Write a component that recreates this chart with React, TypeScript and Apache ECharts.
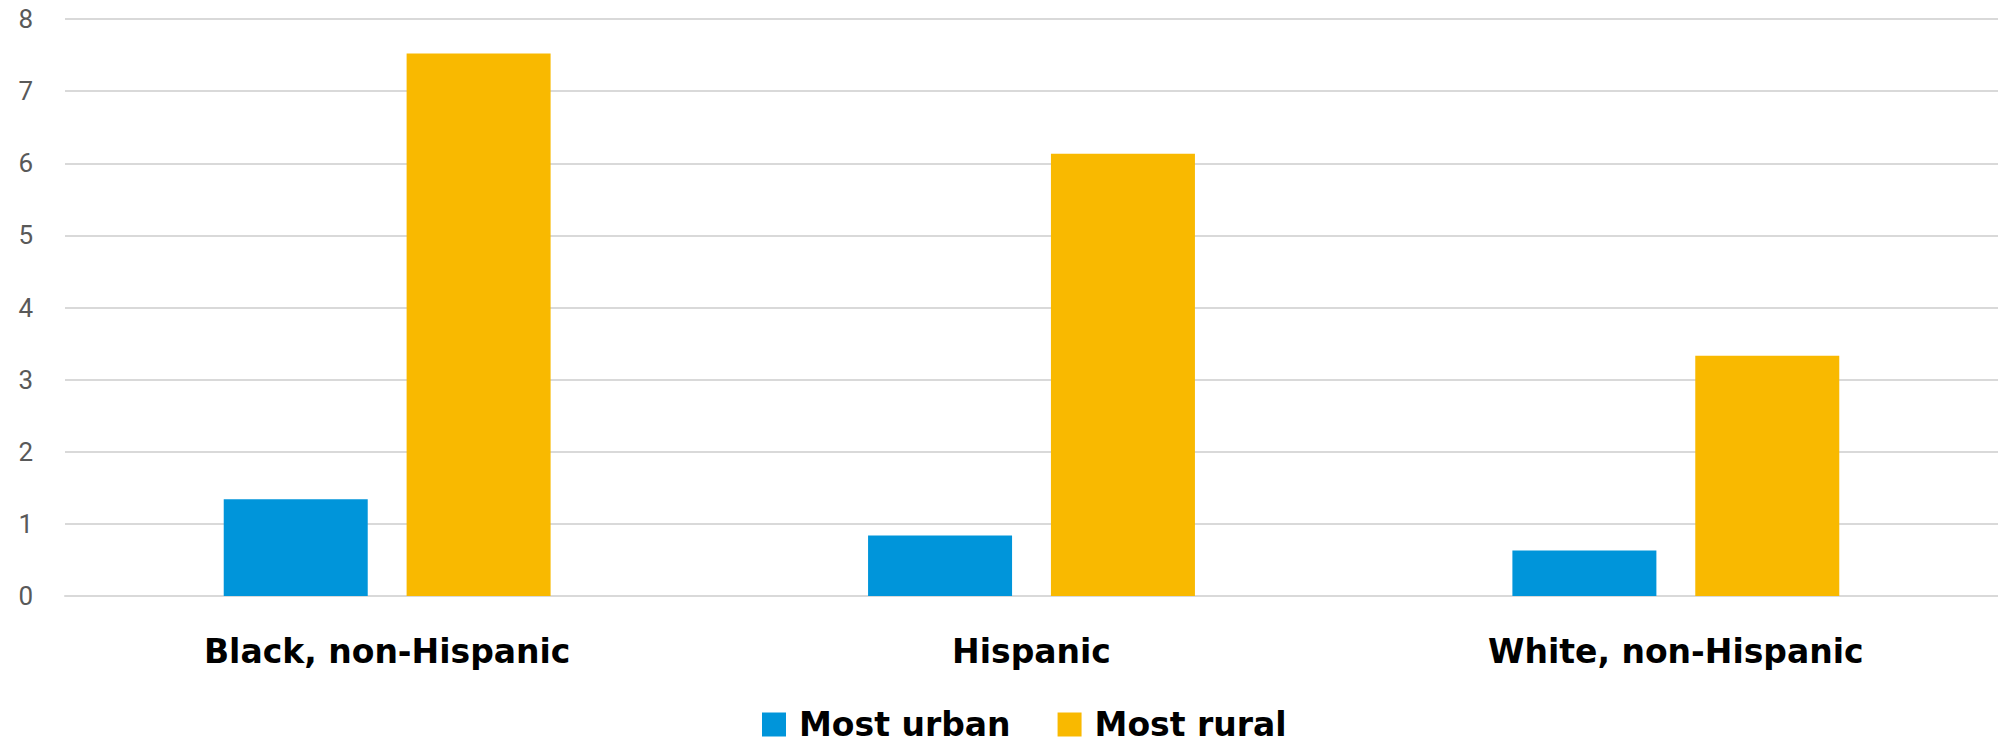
import React, { useEffect, useRef } from "react";
import * as echarts from "echarts";

const categories = ["Black, non-Hispanic", "Hispanic", "White, non-Hispanic"];
const mostUrban = [1.34, 0.84, 0.63];
const mostRural = [7.52, 6.13, 3.33];
const seriesNames = ["Most urban", "Most rural"];

export default function App() {
  const ref = useRef<HTMLDivElement>(null);
  useEffect(() => {
    document.body.style.margin = "0";
    const chart = echarts.init(ref.current!, null, { renderer: "svg" });
    chart.setOption({
      animation: false,
      backgroundColor: "#ffffff",
      grid: { left: 65, right: 0, top: 19, bottom: 147, containLabel: false },
      legend: {
        top: 708,
        left: 762,
        padding: 0,
        itemWidth: 24,
        itemHeight: 24,
        itemGap: 47,
        icon: "rect",
        textStyle: { fontSize: 33, fontWeight: "bold", color: "#000", fontFamily: "DejaVu Sans", lineHeight: 30, padding: [0, 0, 0, 8] },
        data: seriesNames,
      },
      xAxis: {
        type: "category",
        data: categories,
        axisTick: { show: false },
        axisLine: { lineStyle: { color: "#d9d9d9", width: 2 } },
        axisLabel: { fontSize: 33, fontWeight: "bold", color: "#000", fontFamily: "DejaVu Sans", margin: 35, lineHeight: 40 },
      },
      yAxis: {
        type: "value",
        min: 0,
        max: 8,
        interval: 1,
        axisLine: { show: false },
        axisTick: { show: false },
        splitLine: { lineStyle: { color: "#d9d9d9", width: 2 } },
        axisLabel: { fontSize: 26, color: "#595959", fontFamily: "Roboto", margin: 32 },
      },
      series: [
        {
          name: seriesNames[0],
          type: "bar",
          data: mostUrban,
          barWidth: 144,
          barGap: "27%",
          itemStyle: { color: "#0095DA" },
        },
        {
          name: seriesNames[1],
          type: "bar",
          data: mostRural,
          barWidth: 144,
          barGap: "27%",
          itemStyle: { color: "#F9B900" },
        },
      ],
    });
    return () => chart.dispose();
  }, []);
  return <div ref={ref} style={{ position: "absolute", left: 0, top: 0, width: 1998, height: 743 }} />;
}
